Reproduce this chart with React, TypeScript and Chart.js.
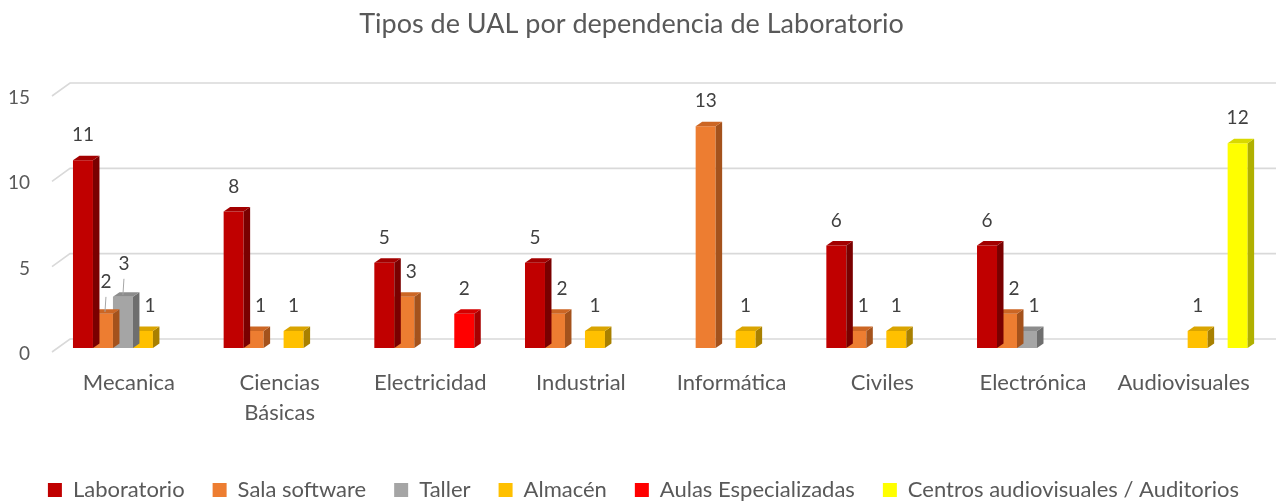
import React, { useEffect, useRef } from 'react';
import { Chart, registerables } from 'chart.js';

Chart.register(...registerables);

// ---------- data ----------
const categories: (string | string[])[] = [
  'Mecanica',
  ['Ciencias', 'Básicas'],
  'Electricidad',
  'Industrial',
  'Informática',
  'Civiles',
  'Electrónica',
  'Audiovisuales',
];

const seriesNames = [
  'Laboratorio',
  'Sala software',
  'Taller',
  'Almacén',
  'Aulas Especializadas',
  'Centros audiovisuales / Auditorios',
];

const laboratorio = [11, 8, 5, 5, null, 6, 6, null];
const salaSoftware = [2, 1, 3, 2, 13, 1, 2, null];
const taller = [3, null, null, null, null, null, 1, null];
const almacen = [1, 1, null, 1, 1, 1, null, 1];
const aulasEspecializadas = [null, null, 2, null, null, null, null, null];
const centrosAudiovisuales = [null, null, null, null, null, null, null, 12];

const yTickValues = [0, 5, 10, 15];

const chartTitle = 'Tipos de UAL por dependencia de Laboratorio';

// ---------- styles ----------
const frontColors = ['#C00000', '#ED7D31', '#A5A5A5', '#FFC000', '#FF0000', '#FFFF00'];
const sideColors = ['#7A0000', '#A4521C', '#6E6E6E', '#A88000', '#A80000', '#B0B000'];
const topColors = ['#A30000', '#CC6624', '#8C8C8C', '#D9A400', '#D40000', '#D9D900'];

const FONT = 'Lato, "Open Sans", sans-serif';
const DEPTH_X = 6.5;
const DEPTH_Y = 4.5;
const LEGEND_SHIFT_X = 12;

// manual label placements (Excel moved these to avoid collisions)
const labelAdjust = [
  { series: 1, index: 0, dx: 3, dy: -32, leader: true },
  { series: 2, index: 0, dx: 1, dy: -33, leader: true },
];

const gridPlugin = {
  id: 'grid3d',
  beforeDatasetsDraw(chart: any) {
    const { ctx, chartArea, scales } = chart;
    const y = scales.y;
    ctx.save();
    ctx.strokeStyle = '#D9D9D9';
    ctx.lineWidth = 1.6;
    y.ticks.forEach((t: any) => {
      const py = y.getPixelForValue(t.value);
      ctx.beginPath();
      ctx.moveTo(chartArea.left - 5.6, py + 4);
      ctx.lineTo(chartArea.left + 12.4, py - 9);
      ctx.lineTo(chart.width, py - 9);
      ctx.stroke();
    });
    ctx.restore();
  },
};

const legendShiftPlugin = {
  id: 'legendShift',
  afterLayout(chart: any) {
    const lg = chart.legend;
    if (lg) {
      lg.left += LEGEND_SHIFT_X;
      lg.right += LEGEND_SHIFT_X;
    }
  },
};

const bar3dPlugin = {
  id: 'bar3d',
  afterDatasetDraw(chart: any, args: any) {
    const di = args.index;
    const meta = args.meta;
    const ds = chart.data.datasets[di];
    const { ctx } = chart;
    ctx.save();
    meta.data.forEach((el: any, i: number) => {
      if (ds.data[i] == null) return;
      const { x, y, base, width } = el.getProps(['x', 'y', 'base', 'width'], true);
      const l = x - width / 2;
      const r = x + width / 2;
      // side
      ctx.fillStyle = sideColors[di];
      ctx.beginPath();
      ctx.moveTo(r, y);
      ctx.lineTo(r + DEPTH_X, y - DEPTH_Y);
      ctx.lineTo(r + DEPTH_X, base - DEPTH_Y);
      ctx.lineTo(r, base);
      ctx.closePath();
      ctx.fill();
      // top
      ctx.fillStyle = topColors[di];
      ctx.beginPath();
      ctx.moveTo(l, y);
      ctx.lineTo(l + DEPTH_X, y - DEPTH_Y);
      ctx.lineTo(r + DEPTH_X, y - DEPTH_Y);
      ctx.lineTo(r, y);
      ctx.closePath();
      ctx.fill();
    });
    ctx.restore();
  },
};

const labelsPlugin = {
  id: 'valueLabels',
  afterDatasetsDraw(chart: any) {
    const { ctx } = chart;
    ctx.save();
    ctx.font = `19px ${FONT}`;
    ctx.fillStyle = '#404040';
    ctx.textAlign = 'center';
    ctx.textBaseline = 'middle';
    chart.data.datasets.forEach((ds: any, di: number) => {
      const meta = chart.getDatasetMeta(di);
      meta.data.forEach((el: any, i: number) => {
        const v = ds.data[i];
        if (v == null) return;
        const { x, y } = el.getProps(['x', 'y'], true);
        let dx = 0;
        let dy = -25;
        if (di > 0) {
          const pv = chart.data.datasets[di - 1].data[i];
          if (pv != null && pv > v) dx = 7;
        }
        const adj = labelAdjust.find((a) => a.series === di && a.index === i);
        if (adj) {
          dx = adj.dx;
          dy = adj.dy;
          ctx.strokeStyle = '#A6A6A6';
          ctx.lineWidth = 1;
          ctx.beginPath();
          ctx.moveTo(x + dx, y + dy + 15);
          ctx.lineTo(x + dx - 1, y - 2);
          ctx.stroke();
        }
        ctx.fillText(String(v), x + dx, y + dy);
      });
    });
    ctx.restore();
  },
};

export default function App() {
  const ref = useRef<HTMLCanvasElement | null>(null);

  useEffect(() => {
    if (!ref.current) return;
    const seriesData = [laboratorio, salaSoftware, taller, almacen, aulasEspecializadas, centrosAudiovisuales];
    const chart = new Chart(ref.current, {
      type: 'bar',
      data: {
        labels: categories as any,
        datasets: seriesNames.map((name, i) => ({
          label: name,
          data: seriesData[i] as any,
          backgroundColor: frontColors[i],
          borderWidth: 0,
          categoryPercentage: 0.796,
          barPercentage: 1.0,
        })),
      },
      options: {
        responsive: false,
        animation: false,
        layout: { padding: { top: 0, left: 0, right: 13, bottom: -10 } },
        plugins: {
          title: {
            display: true,
            text: chartTitle,
            color: '#595959',
            font: { family: FONT, size: 27, weight: 'normal' as any, lineHeight: 1.2 },
            padding: { top: 8, bottom: 51.6 },
          },
          legend: {
            display: true,
            position: 'bottom',
            labels: {
              color: '#595959',
              font: { family: FONT, size: 22 },
              boxWidth: 14,
              boxHeight: 14,
              padding: 28,
            },
          },
          tooltip: { enabled: false },
        },
        scales: {
          x: {
            grid: { display: false, drawTicks: false },
            border: { display: false },
            ticks: {
              color: '#595959',
              font: { family: FONT, size: 22, lineHeight: 1.36 },
              padding: 20,
              labelOffset: -4,
              maxRotation: 0,
              autoSkip: false,
            },
            afterFit(scale: any) {
              scale.height = 103;
            },
          },
          y: {
            min: 0,
            max: 15,
            grid: { display: false, drawTicks: false },
            border: { display: false },
            afterBuildTicks(scale: any) {
              scale.ticks = yTickValues.map((v) => ({ value: v }));
            },
            ticks: {
              color: '#595959',
              font: { family: FONT, size: 19 },
              padding: 27.6,
              labelOffset: 6,
            },
            afterFit(scale: any) {
              scale.width = 57.6;
            },
          },
        },
      },
      plugins: [legendShiftPlugin, gridPlugin, bar3dPlugin, labelsPlugin],
    });
    return () => chart.destroy();
  }, []);

  return (
    <div style={{ position: 'absolute', left: 0, top: 0, width: 1276, height: 501, background: '#fff' }}>
      <canvas ref={ref} width={1276} height={501} />
    </div>
  );
}
